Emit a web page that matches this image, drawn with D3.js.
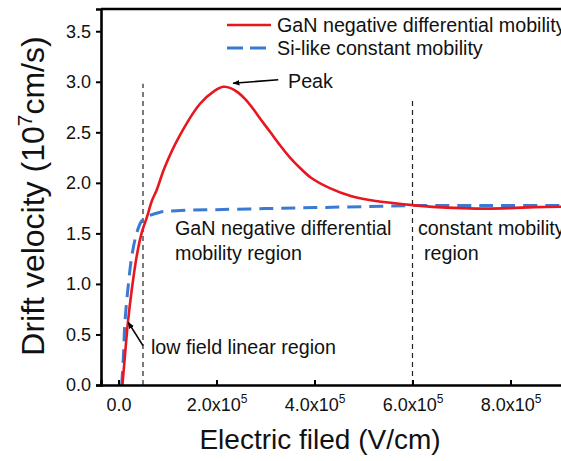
<!DOCTYPE html>
<html>
<head>
<meta charset="utf-8">
<script src="https://cdn.jsdelivr.net/npm/d3@7.9.0/dist/d3.min.js"></script>
<style>
  body { margin: 0; background: #fff; }
  svg { display: block; font-family: Arial, "Liberation Sans", sans-serif; }
</style>
</head>
<body>
<div id="chart"></div>
<script>
// field in 1e5 V/cm, velocity in 1e7 cm/s
const ganField = [0.08, 0.13, 0.19, 0.27, 0.37, 0.47, 0.58, 0.68, 0.78, 0.94, 1.23, 1.66, 1.96, 2.14, 2.30, 2.45, 2.60, 2.75, 2.90, 3.10, 3.30, 3.50, 3.70, 3.93, 4.30, 4.74, 5.25, 5.60, 6.00, 6.50, 7.00, 7.50, 8.00, 8.50, 9.30];
const ganVelocity = [0, 0.28, 0.61, 0.94, 1.27, 1.50, 1.66, 1.82, 1.93, 2.15, 2.45, 2.78, 2.91, 2.95, 2.935, 2.89, 2.82, 2.73, 2.63, 2.50, 2.37, 2.25, 2.15, 2.05, 1.95, 1.87, 1.82, 1.80, 1.78, 1.76, 1.75, 1.745, 1.75, 1.76, 1.765];

const siField = [0.065, 0.10, 0.13, 0.19, 0.27, 0.37, 0.47, 0.61, 0.85, 1.19, 2.0, 3.0, 4.0, 5.0, 6.0, 7.0, 8.0, 9.3];
const siVelocity = [0, 0.28, 0.61, 0.94, 1.27, 1.50, 1.62, 1.67, 1.71, 1.725, 1.735, 1.745, 1.755, 1.765, 1.775, 1.775, 1.775, 1.775];

const boundaryField = [0.5, 6.0];
const boundaryTop = [2.98, 2.85];

const xTicks = [0, 2, 4, 6, 8];
const yTicks = [0, 0.5, 1.0, 1.5, 2.0, 2.5, 3.0, 3.5];

const seriesNames = ["GaN negative differential mobility", "Si-like constant mobility"];

const width = 561;
const height = 461;
const red = "#e8161e";
const blue = "#3b7ad2";
const textSize = 19.7;

const x = d3.scaleLinear().domain([-0.357, 10]).range([101, 608.5]);
const y = d3.scaleLinear().domain([0, 3.72]).range([385, 9]);

const svg = d3.select("#chart").append("svg")
  .attr("width", width)
  .attr("height", height)
  .style("overflow", "hidden");

svg.append("defs").append("marker")
  .attr("id", "arrow")
  .attr("viewBox", "0 0 10 10")
  .attr("refX", 9).attr("refY", 5)
  .attr("markerWidth", 7).attr("markerHeight", 7)
  .attr("markerUnits", "userSpaceOnUse")
  .attr("orient", "auto")
  .append("path").attr("d", "M0,1 L10,5 L0,9 Z").attr("fill", "#000");

// region boundaries
svg.append("g").selectAll("line")
  .data(boundaryField)
  .join("line")
  .attr("x1", (d) => x(d)).attr("x2", (d) => x(d))
  .attr("y1", y(0)).attr("y2", (d, i) => y(boundaryTop[i]))
  .attr("stroke", "#222").attr("stroke-width", 1.2)
  .attr("stroke-dasharray", "5,4");

const line = d3.line()
  .x((d) => x(d[0]))
  .y((d) => y(d[1]))
  .curve(d3.curveCatmullRom.alpha(0.5));

svg.append("path")
  .datum(siField.map((f, i) => [f, siVelocity[i]]))
  .attr("d", line)
  .attr("fill", "none").attr("stroke", blue).attr("stroke-width", 3)
  .attr("stroke-dasharray", "14,8");

svg.append("path")
  .datum(ganField.map((f, i) => [f, ganVelocity[i]]))
  .attr("d", line)
  .attr("fill", "none").attr("stroke", red).attr("stroke-width", 2.6);

// axes
const xAxis = svg.append("g")
  .attr("transform", `translate(0,${y(0)})`)
  .call(d3.axisBottom(x).tickValues(xTicks).tickSize(-5).tickPadding(10).tickFormat(""));
const yAxis = svg.append("g")
  .attr("transform", `translate(${x.range()[0]},0)`)
  .call(d3.axisLeft(y).tickValues(yTicks).tickSize(5).tickPadding(5).tickFormat(d3.format(".1f")));

for (const g of [xAxis, yAxis]) {
  g.select(".domain").attr("stroke-width", 2.6).attr("stroke", "#000");
  g.selectAll(".tick line").attr("stroke-width", 2).attr("stroke", "#000");
}
yAxis.selectAll(".tick text").attr("font-size", 18).attr("fill", "#111")
  .attr("font-family", "Arial, 'Liberation Sans', sans-serif");

const xLabels = xAxis.selectAll(".tick").append("text")
  .attr("y", 26).attr("text-anchor", "middle")
  .attr("font-size", 18).attr("fill", "#111")
  .attr("font-family", "Arial, 'Liberation Sans', sans-serif");
xLabels.each(function (d) {
  const t = d3.select(this);
  if (d === 0) {
    t.text("0.0");
  } else {
    t.append("tspan").text(`${d.toFixed(1)}x10`);
    t.append("tspan").attr("dy", -8).attr("font-size", 12).text("5");
  }
});

// top frame
svg.append("line")
  .attr("x1", x.range()[0]).attr("x2", x.range()[1])
  .attr("y1", y.range()[1]).attr("y2", y.range()[1])
  .attr("stroke", "#000").attr("stroke-width", 2.6);
svg.append("line")
  .attr("x1", x.range()[1]).attr("x2", x.range()[1])
  .attr("y1", y.range()[1]).attr("y2", y(0))
  .attr("stroke", "#000").attr("stroke-width", 2.6);

// axis titles
svg.append("text")
  .attr("x", 320).attr("y", 449)
  .attr("text-anchor", "middle")
  .attr("font-size", 28).attr("fill", "#111")
  .text("Electric filed (V/cm)");

const yTitle = svg.append("text")
  .attr("transform", `translate(44,196) rotate(-90)`)
  .attr("text-anchor", "middle")
  .attr("font-size", 32).attr("fill", "#111");
yTitle.append("tspan").text("Drift velocity (10");
yTitle.append("tspan").attr("dy", -12).attr("font-size", 21).text("7");
yTitle.append("tspan").attr("dy", 12).text("cm/s)");

// legend
const legend = svg.append("g").attr("font-size", textSize).attr("fill", "#111");
const legendY = [25, 48];
const legendStyles = [{ color: red, dash: null, w: 2.6 }, { color: blue, dash: "16,7", w: 3 }];
seriesNames.forEach((name, i) => {
  legend.append("line")
    .attr("x1", 227).attr("x2", 271)
    .attr("y1", legendY[i]).attr("y2", legendY[i])
    .attr("stroke", legendStyles[i].color)
    .attr("stroke-width", legendStyles[i].w)
    .attr("stroke-dasharray", legendStyles[i].dash);
  legend.append("text")
    .attr("x", 277).attr("y", legendY[i] + 7)
    .text(name);
});

// annotations
const notes = svg.append("g").attr("font-size", textSize).attr("fill", "#111");
notes.append("text").attr("x", 288).attr("y", 88).text("Peak");
notes.append("text").attr("x", 175).attr("y", 235).text("GaN negative differential");
notes.append("text").attr("x", 175).attr("y", 260).text("mobility region");
notes.append("text").attr("x", 418).attr("y", 235).text("constant mobility");
notes.append("text").attr("x", 424).attr("y", 260).text("region");
notes.append("text").attr("x", 151).attr("y", 354).text("low field linear region");

svg.append("line")
  .attr("x1", x(3.26)).attr("y1", y(3.02))
  .attr("x2", x(2.34)).attr("y2", y(2.985))
  .attr("stroke", "#000").attr("stroke-width", 1.6)
  .attr("marker-end", "url(#arrow)");
svg.append("line")
  .attr("x1", x(0.5)).attr("y1", y(0.39))
  .attr("x2", x(0.2)).attr("y2", y(0.62))
  .attr("stroke", "#000").attr("stroke-width", 1.6)
  .attr("marker-end", "url(#arrow)");
</script>
</body>
</html>
